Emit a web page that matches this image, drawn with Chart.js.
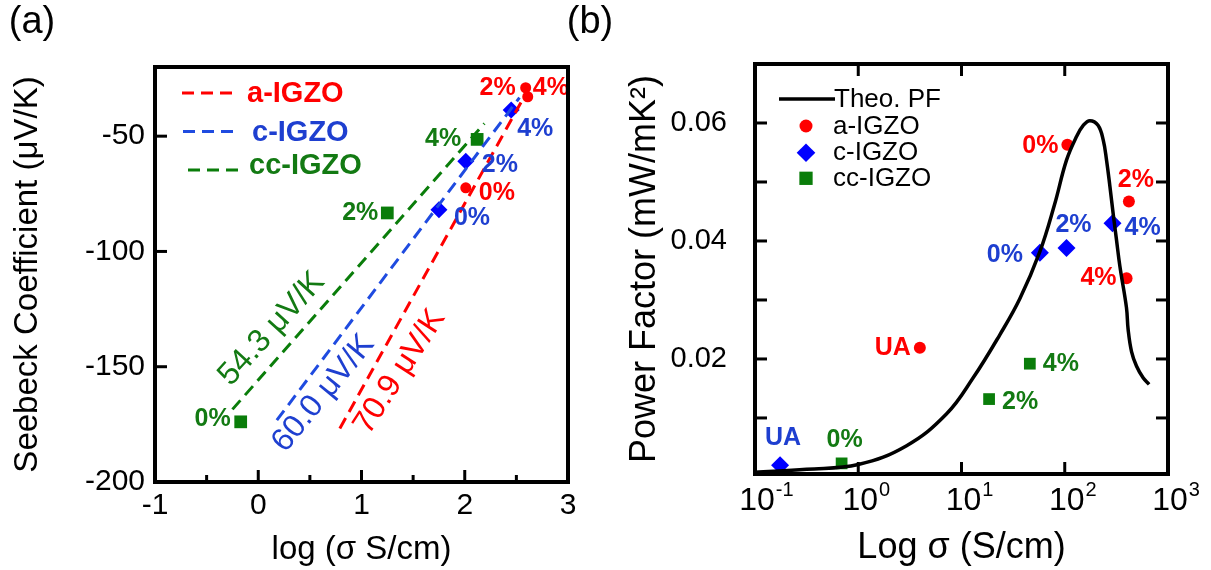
<!DOCTYPE html>
<html>
<head>
<meta charset="utf-8">
<script src="https://cdn.jsdelivr.net/npm/chart.js@4.4.0/dist/chart.umd.min.js"></script>
<style>
  body { margin: 0; background: #fff; }
  #wrap { position: relative; width: 1211px; height: 570px; }
  canvas { position: absolute; top: 0; }
  #chartA { left: 0; }
  #chartB { left: 550px; }
</style>
</head>
<body>
<div id="wrap">
  <canvas id="chartA" width="600" height="570"></canvas>
  <canvas id="chartB" width="661" height="570"></canvas>
</div>
<script>
// ---- panel (a): Seebeck vs log(sigma) ----
const aLogSigma = [2.01, 2.59, 2.61];
const aSeebeck = [-72.4, -29, -32.9];
const cLogSigma = [1.75, 2.01, 2.45];
const cSeebeck = [-81.9, -60.9, -38.7];
const ccLogSigma = [-0.17, 1.25, 2.12];
const ccSeebeck = [-173.9, -83.3, -51.4];
const oxygenLabels = ['0%', '2%', '4%'];

// linear fits (end points)
const aFitX = [0.79, 2.57];
const aFitY = [-176.8, -33.3];
const cFitX = [0.18, 2.53];
const cFitY = [-173.2, -33.3];
const ccFitX = [-0.25, 2.19];
const ccFitY = [-168.5, -44.5];
const slopeLabels = ['70.9 \u03bcV/K', '60.0 \u03bcV/K', '54.3 \u03bcV/K'];
const seriesNames = ['a-IGZO', 'c-IGZO', 'cc-IGZO'];

const xTicksA = [-1, 0, 1, 2, 3];
const xMinorA = [-0.5, 0.5, 1.5, 2.5];
const yTicksA = [-50, -100, -150, -200];

// ---- panel (b): power factor vs sigma ----
const theoSigma = [0.1, 0.316, 1, 2.94, 7.18, 12.97, 23.5, 36.7, 57.4, 79.4, 104, 130, 151, 175, 210, 236, 254, 274, 294, 317, 342, 396, 411, 444, 495, 574, 656];
const theoPF = [0.0008, 0.0013, 0.0021, 0.0053, 0.0107, 0.0168, 0.0241, 0.0302, 0.0382, 0.0461, 0.0537, 0.0577, 0.0596, 0.0604, 0.0596, 0.0571, 0.0537, 0.0492, 0.0447, 0.0402, 0.0357, 0.0287, 0.0250, 0.0212, 0.0188, 0.0168, 0.0157];

const aSigmaB = [3.95, 106, 418, 397];
const aPFB = [0.0219, 0.0563, 0.0467, 0.0337];
const aLabelsB = ['UA', '0%', '2%', '4%'];
const cSigmaB = [0.175, 57.4, 104, 290];
const cPFB = [0.0020, 0.0380, 0.0388, 0.0430];
const cLabelsB = ['UA', '0%', '2%', '4%'];
const ccSigmaB = [0.69, 18.5, 45.9];
const ccPFB = [0.0023, 0.0132, 0.0192];
const ccLabelsB = ['0%', '2%', '4%'];

const xTicksB = [0.1, 1, 10, 100, 1000];
const yTicksB = [0.02, 0.04, 0.06];
const yMinorB = [0.01, 0.03, 0.05];

// ---- styles ----
const FONT = '"Liberation Sans", Arial, Helvetica, sans-serif';
const RED = '#ff0000';
const BLUE = '#0000ff';
const BLUE_TXT = '#1e3fd0';
const BLUE_LINE = '#1f4be0';
const GREEN = '#0a7d0a';
const GREEN_TXT = '#137a13';

// label offsets [dx, dy, align]
const offA = [
  [[13, 5, 'left'], [-10, 0, 'right'], [5, -9, 'left']],
  [[15, 8, 'left'], [16, 4, 'left'], [6, 19, 'left']],
  [[-10, -3, 'right'], [-9, 0, 'right'], [-16, 0, 'right']]
];
const offB = [
  [[-9, 0, 'right'], [-9, 1, 'right'], [7, -21, 'center'], [-10, 0, 'right']],
  [[3, -27, 'center'], [-17, 2, 'right'], [7, -23, 'center'], [12, 5, 'left']],
  [[3, -23, 'center'], [13, 3, 'left'], [13, 0, 'left']]
];

Chart.defaults.font.family = FONT;
Chart.defaults.color = '#000';

const pts = (xs, ys) => xs.map((x, i) => ({ x, y: ys[i] }));

function line(ctx, x1, y1, x2, y2) {
  ctx.beginPath(); ctx.moveTo(x1, y1); ctx.lineTo(x2, y2); ctx.stroke();
}

function drawMarker(ctx, style, r, x, y, color) {
  ctx.fillStyle = color;
  ctx.beginPath();
  if (style === 'circle') ctx.arc(x, y, r, 0, Math.PI * 2);
  else if (style === 'rectRot') { ctx.moveTo(x - r, y); ctx.lineTo(x, y - r); ctx.lineTo(x + r, y); ctx.lineTo(x, y + r); ctx.closePath(); }
  else { const s = r * Math.SQRT1_2; ctx.rect(x - s, y - s, 2 * s, 2 * s); }
  ctx.fill();
}

function drawFrame(chart, ticks) {
  const { ctx, chartArea: ca, scales } = chart;
  ctx.save();
  ctx.strokeStyle = '#000';
  ctx.lineWidth = 3;
  (ticks.bottom || []).forEach(([v, len]) => { const x = scales.x.getPixelForValue(v); line(ctx, x, ca.bottom, x, ca.bottom - len); });
  (ticks.top || []).forEach(([v, len]) => { const x = scales.x.getPixelForValue(v); line(ctx, x, ca.top, x, ca.top + len); });
  (ticks.left || []).forEach(([v, len]) => { const y = scales.y.getPixelForValue(v); line(ctx, ca.left, y, ca.left + len, y); });
  (ticks.right || []).forEach(([v, len]) => { const y = scales.y.getPixelForValue(v); line(ctx, ca.right, y, ca.right - len, y); });
  ctx.lineWidth = 4;
  ctx.strokeRect(ca.left, ca.top, ca.right - ca.left, ca.bottom - ca.top);
  ctx.restore();
}

function drawPointLabels(chart, dsIndex, labels, offsets, color, size) {
  const { ctx } = chart;
  const meta = chart.getDatasetMeta(dsIndex);
  ctx.save();
  ctx.font = 'bold ' + size + 'px ' + FONT;
  ctx.fillStyle = color;
  ctx.textBaseline = 'middle';
  meta.data.forEach((el, i) => {
    const [dx, dy, align] = offsets[i];
    ctx.textAlign = align;
    ctx.fillText(labels[i], el.x + dx, el.y + dy);
  });
  ctx.restore();
}

// ---------- chart (a) ----------
const panelA = {
  id: 'panelA',
  afterDatasetsDraw(chart) {
    const { ctx, scales } = chart;
    drawPointLabels(chart, 3, oxygenLabels, offA[0], RED, 25);
    drawPointLabels(chart, 4, oxygenLabels, offA[1], BLUE_TXT, 25);
    drawPointLabels(chart, 5, oxygenLabels, offA[2], GREEN_TXT, 25);

    // slope annotations along the fits
    const notes = [[1.37, -152.2, -57, RED], [0.63, -161.6, -50.5, BLUE_TXT], [0.13, -133.6, -47.7, GREEN_TXT]];
    ctx.save();
    ctx.font = '32px ' + FONT;
    ctx.textAlign = 'center';
    ctx.textBaseline = 'middle';
    notes.forEach(([vx, vy, ang, col], i) => {
      ctx.save();
      ctx.translate(scales.x.getPixelForValue(vx), scales.y.getPixelForValue(vy));
      ctx.rotate(ang * Math.PI / 180);
      ctx.fillStyle = col;
      ctx.fillText(slopeLabels[i], 0, 0);
      ctx.restore();
    });
    ctx.restore();

    // legend
    const rows = [[93, 182, 237, 247, RED, RED], [131.5, 183, 238, 252, BLUE_LINE, BLUE_TXT], [170, 188, 242, 249, GREEN, GREEN_TXT]];
    ctx.save();
    ctx.lineWidth = 3;
    ctx.setLineDash([12, 7]);
    ctx.font = 'bold 29px ' + FONT;
    ctx.textBaseline = 'middle';
    rows.forEach(([y, x1, x2, tx, lc, tc], i) => {
      ctx.strokeStyle = lc;
      line(ctx, x1, y, x2, y);
      ctx.fillStyle = tc;
      ctx.fillText(seriesNames[i], tx, i === 2 ? y - 4 : y + 1);
    });
    ctx.restore();
  },
  afterDraw(chart) {
    drawFrame(chart, {
      bottom: xTicksA.map(v => [v, 12]).concat(xMinorA.map(v => [v, 7])),
      left: yTicksA.map(v => [v, 12])
    });
    const { ctx } = chart;
    ctx.save();
    ctx.font = '38px ' + FONT;
    ctx.textAlign = 'center';
    ctx.textBaseline = 'middle';
    ctx.fillStyle = '#000';
    ctx.fillText('(a)', 32, 23);
    ctx.restore();
  }
};

new Chart(document.getElementById('chartA'), {
  type: 'scatter',
  data: {
    datasets: [
      { data: pts(aFitX, aFitY), showLine: true, borderColor: RED, borderDash: [12, 7], borderWidth: 3, pointRadius: 0 },
      { data: pts(cFitX, cFitY), showLine: true, borderColor: BLUE_LINE, borderDash: [12, 7], borderWidth: 3, pointRadius: 0 },
      { data: pts(ccFitX, ccFitY), showLine: true, borderColor: GREEN, borderDash: [12, 7], borderWidth: 3, pointRadius: 0 },
      { label: 'a-IGZO', data: pts(aLogSigma, aSeebeck), pointStyle: 'circle', pointRadius: 5.5, pointBackgroundColor: RED, pointBorderWidth: 0 },
      { label: 'c-IGZO', data: pts(cLogSigma, cSeebeck), pointStyle: 'rectRot', pointRadius: 8.5, pointBackgroundColor: BLUE, pointBorderWidth: 0 },
      { label: 'cc-IGZO', data: pts(ccLogSigma, ccSeebeck), pointStyle: 'rect', pointRadius: 9, pointBackgroundColor: GREEN, pointBorderWidth: 0 }
    ]
  },
  options: {
    responsive: false,
    animation: false,
    layout: { padding: { top: 67, right: 32, left: 0, bottom: 0 } },
    plugins: { legend: { display: false }, tooltip: { enabled: false } },
    scales: {
      x: {
        type: 'linear', min: -1, max: 3,
        afterBuildTicks: s => { s.ticks = xTicksA.map(v => ({ value: v })); },
        afterFit: s => { s.height = 88; },
        grid: { display: false, drawTicks: false },
        border: { display: false },
        ticks: { font: { size: 30 }, padding: 6, maxRotation: 0, autoSkip: false, callback: v => String(v) },
        title: { display: true, text: 'log (\u03c3 S/cm)', font: { size: 33 }, padding: { top: 14, bottom: 0 } }
      },
      y: {
        type: 'linear', min: -200, max: -20,
        afterBuildTicks: s => { s.ticks = yTicksA.map(v => ({ value: v })); },
        afterFit: s => { s.width = 155; },
        grid: { display: false, drawTicks: false },
        border: { display: false },
        ticks: { font: { size: 30 }, padding: 10, autoSkip: false, callback: v => String(v) },
        title: { display: true, text: 'Seebeck Coefficient (\u03bcV/K)', font: { size: 33 }, padding: { top: 8, bottom: 0 } }
      }
    }
  },
  plugins: [panelA]
});

// ---------- chart (b) ----------
const panelB = {
  id: 'panelB',
  afterDatasetsDraw(chart) {
    const { ctx } = chart;
    drawPointLabels(chart, 1, aLabelsB, offB[0], RED, 25);
    drawPointLabels(chart, 2, cLabelsB, offB[1], BLUE_TXT, 25);
    drawPointLabels(chart, 3, ccLabelsB, offB[2], GREEN_TXT, 25);

    // legend
    ctx.save();
    ctx.font = '26px ' + FONT;
    ctx.textBaseline = 'middle';
    ctx.fillStyle = '#000';
    ctx.strokeStyle = '#000';
    ctx.lineWidth = 3.5;
    line(ctx, 229, 99, 285, 99);
    ctx.fillText('Theo. PF', 284, 100);
    drawMarker(ctx, 'circle', 6.5, 256, 126, RED);
    drawMarker(ctx, 'rectRot', 9.3, 256, 152.7, BLUE);
    drawMarker(ctx, 'rect', 9.4, 256, 178.3, GREEN);
    ctx.fillStyle = '#000';
    seriesNames.forEach((n, i) => ctx.fillText(n, 283, 127 + i * 26));
    ctx.restore();
  },
  afterDraw(chart) {
    const { ctx, chartArea: ca, scales } = chart;
    drawFrame(chart, {
      bottom: [1, 10, 100].map(v => [v, 12]),
      top: [1, 10, 100].map(v => [v, 12]),
      left: yTicksB.concat(yMinorB).map(v => [v, 12]),
      right: yTicksB.concat(yMinorB).map(v => [v, 12])
    });
    // power-of-ten tick labels
    ctx.save();
    ctx.fillStyle = '#000';
    ctx.textBaseline = 'middle';
    xTicksB.forEach(v => {
      const x = scales.x.getPixelForValue(v) + 2;
      const exp = String(Math.round(Math.log10(v)));
      ctx.font = '32px ' + FONT;
      ctx.textAlign = 'center';
      ctx.fillText('10', x, ca.bottom + 27);
      const w = ctx.measureText('10').width;
      ctx.font = '20px ' + FONT;
      ctx.textAlign = 'left';
      ctx.fillText(exp, x + w / 2 + 1, ca.bottom + 16);
    });
    ctx.font = '38px ' + FONT;
    ctx.textAlign = 'center';
    ctx.fillText('(b)', 40, 23);
    ctx.restore();
  }
};

new Chart(document.getElementById('chartB'), {
  type: 'scatter',
  data: {
    datasets: [
      { label: 'Theo. PF', data: pts(theoSigma, theoPF), showLine: true, borderColor: '#000', borderWidth: 3.5, pointRadius: 0, tension: 0.4 },
      { label: 'a-IGZO', data: pts(aSigmaB, aPFB), pointStyle: 'circle', pointRadius: 6, pointBackgroundColor: RED, pointBorderWidth: 0 },
      { label: 'c-IGZO', data: pts(cSigmaB, cPFB), pointStyle: 'rectRot', pointRadius: 9, pointBackgroundColor: BLUE, pointBorderWidth: 0 },
      { label: 'cc-IGZO', data: pts(ccSigmaB, ccPFB), pointStyle: 'rect', pointRadius: 8.3, pointBackgroundColor: GREEN, pointBorderWidth: 0 }
    ]
  },
  options: {
    responsive: false,
    animation: false,
    layout: { padding: { top: 64, right: 43, left: 0, bottom: 0 } },
    plugins: { legend: { display: false }, tooltip: { enabled: false } },
    scales: {
      x: {
        type: 'logarithmic', min: 0.1, max: 1000,
        afterBuildTicks: s => { s.ticks = xTicksB.map(v => ({ value: v })); },
        afterFit: s => { s.height = 96; },
        grid: { display: false, drawTicks: false },
        border: { display: false },
        ticks: { display: false },
        title: { display: true, text: 'Log \u03c3 (S/cm)', font: { size: 36 }, padding: { top: 4, bottom: 0 } }
      },
      y: {
        type: 'linear', min: 0.0005, max: 0.07,
        afterBuildTicks: s => { s.ticks = yTicksB.map(v => ({ value: v })); },
        afterFit: s => { s.width = 205; },
        grid: { display: false, drawTicks: false },
        border: { display: false },
        ticks: { font: { size: 29 }, padding: 28, autoSkip: false, callback: v => v.toFixed(2) },
        title: { display: true, text: 'Power Factor (mW/mK\u00b2)', font: { size: 36 }, padding: { top: 73, bottom: 0 } }
      }
    }
  },
  plugins: [panelB]
});
</script>
</body>
</html>
